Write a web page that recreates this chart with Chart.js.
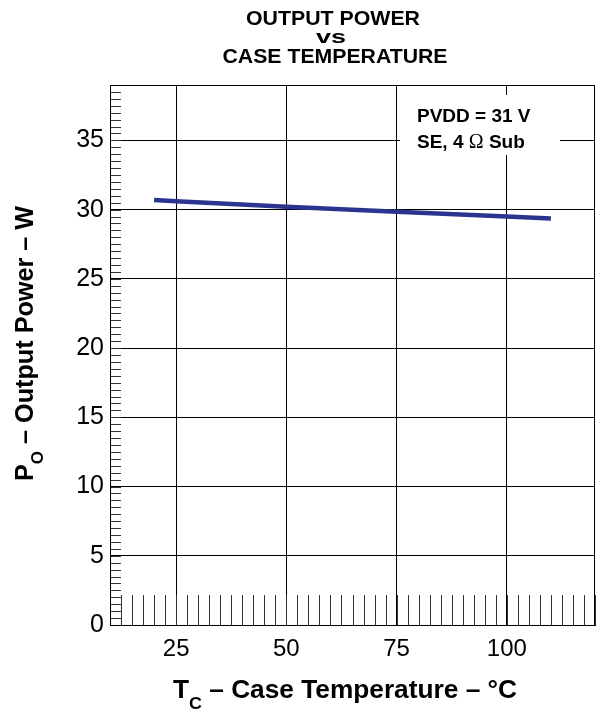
<!DOCTYPE html>
<html>
<head>
<meta charset="utf-8">
<script src="https://cdn.jsdelivr.net/npm/chart.js@4/dist/chart.umd.min.js"></script>
<style>
  html, body { margin: 0; padding: 0; background: #fff; }
  #wrap { width: 597px; height: 715px; }
</style>
</head>
<body>
<div id="wrap"><canvas id="c" width="597" height="715"></canvas></div>
<script>
// ---- data ----
const temps = [20, 25, 50, 75, 100, 110];
const power = [30.7, 30.6, 30.2, 29.85, 29.5, 29.35];
const xTickValues = [25, 50, 75, 100];
const yTickValues = [0, 5, 10, 15, 20, 25, 30, 35];
const xRange = [10, 120];
const yRange = [0, 39];
const xMinorStep = 2.5;
const yMinorStep = 0.5;
const titleLines = ['OUTPUT POWER', 'vs', 'CASE TEMPERATURE'];
const noteLines = ['PVDD = 31 V', 'SE, 4 Ω Sub'];

const FONT = '"Liberation Sans", Arial, Helvetica, sans-serif';

function drawParts(ctx, parts, x, y, targetWidth, align) {
  let w = 0;
  parts.forEach(p => {
    ctx.font = (p.weight || 'bold') + ' ' + p.size + 'px ' + (p.family || FONT);
    p.w = ctx.measureText(p.t).width;
    w += p.w;
  });
  const sx = targetWidth ? targetWidth / w : 1;
  ctx.save();
  ctx.translate(x, y);
  ctx.scale(sx, 1);
  let cx = align === 'left' ? 0 : -w / 2;
  ctx.textBaseline = 'alphabetic';
  ctx.textAlign = 'left';
  parts.forEach(p => {
    ctx.font = (p.weight || 'bold') + ' ' + p.size + 'px ' + (p.family || FONT);
    ctx.fillText(p.t, cx, p.dy || 0);
    cx += p.w;
  });
  ctx.restore();
}

const decor = {
  id: 'decor',
  afterDraw(chart) {
    const ctx = chart.ctx;
    const a = chart.chartArea;
    const xs = chart.scales.x, ys = chart.scales.y;
    ctx.save();
    ctx.fillStyle = '#000';
    ctx.strokeStyle = '#333';
    ctx.lineWidth = 1;
    ctx.beginPath();
    for (let v = yRange[0]; v <= yRange[1] + 1e-9; v += yMinorStep) {
      const py = Math.round(ys.getPixelForValue(v)) + 0.5;
      ctx.moveTo(a.left, py); ctx.lineTo(a.left + 11, py);
    }
    for (let v = xRange[0]; v <= xRange[1] + 1e-9; v += xMinorStep) {
      const px = Math.round(xs.getPixelForValue(v)) + 0.5;
      ctx.moveTo(px, a.bottom); ctx.lineTo(px, a.bottom - 30);
    }
    ctx.stroke();
    ctx.strokeStyle = '#000';
    ctx.strokeRect(Math.round(a.left) + 0.5, Math.round(a.top) + 0.5,
                   Math.round(a.right - a.left) - 1, Math.round(a.bottom - a.top));
    // note box
    ctx.fillStyle = '#fff';
    ctx.fillRect(400, 95, 160, 60);
    ctx.fillStyle = '#000';
    drawParts(ctx, [{t: noteLines[0], size: 19}], 417, 122, null, 'left');
    const l2 = noteLines[1].split('Ω');
    drawParts(ctx, [
      {t: l2[0], size: 19},
      {t: 'Ω', size: 20, weight: 'normal', family: '"Liberation Serif", serif'},
      {t: l2[1], size: 19}
    ], 417, 148, null, 'left');
    // title
    drawParts(ctx, [{t: titleLines[0], size: 20}], 333, 25, 174);
    drawParts(ctx, [{t: titleLines[1], size: 19}], 331, 43, 30);
    drawParts(ctx, [{t: titleLines[2], size: 20}], 335, 63, 225);
    // x title
    drawParts(ctx, [
      {t: 'T', size: 25},
      {t: 'C', size: 17, dy: 11},
      {t: ' – Case Temperature – °C', size: 25}
    ], 345, 698, 344);
    // y title
    ctx.save();
    ctx.translate(33, 343.5);
    ctx.rotate(-Math.PI / 2);
    drawParts(ctx, [
      {t: 'P', size: 25},
      {t: 'O', size: 17, dy: 10},
      {t: ' – Output Power – W', size: 25}
    ], 0, 0, 275);
    ctx.restore();
    ctx.restore();
  }
};

new Chart(document.getElementById('c'), {
  type: 'line',
  data: {
    datasets: [{
      data: temps.map((t, i) => ({x: t, y: power[i]})),
      borderColor: '#2b3590',
      borderWidth: 4.5,
      pointRadius: 0,
      tension: 0,
      fill: false
    }]
  },
  options: {
    responsive: false,
    animation: false,
    devicePixelRatio: 1,
    layout: { padding: { top: 85, right: 2, left: 0, bottom: 0 } },
    plugins: { legend: { display: false }, title: { display: false }, tooltip: { enabled: false } },
    scales: {
      x: {
        type: 'linear',
        min: xRange[0], max: xRange[1],
        afterBuildTicks: s => { s.ticks = xTickValues.map(v => ({value: v})); },
        afterFit: s => { s.height = 90; },
        grid: { color: '#000', lineWidth: 1, drawTicks: false },
        border: { display: true, color: '#000', width: 1 },
        ticks: { color: '#000', padding: 10, font: { family: FONT, size: 24 }, maxRotation: 0, autoSkip: false }
      },
      y: {
        type: 'linear',
        min: yRange[0], max: yRange[1],
        afterBuildTicks: s => { s.ticks = yTickValues.map(v => ({value: v})); },
        afterFit: s => { s.width = 110; },
        grid: { color: '#000', lineWidth: 1, drawTicks: false },
        border: { display: true, color: '#000', width: 1 },
        ticks: { color: '#000', padding: 6, font: { family: FONT, size: 25 }, autoSkip: false }
      }
    }
  },
  plugins: [decor]
});
</script>
</body>
</html>
